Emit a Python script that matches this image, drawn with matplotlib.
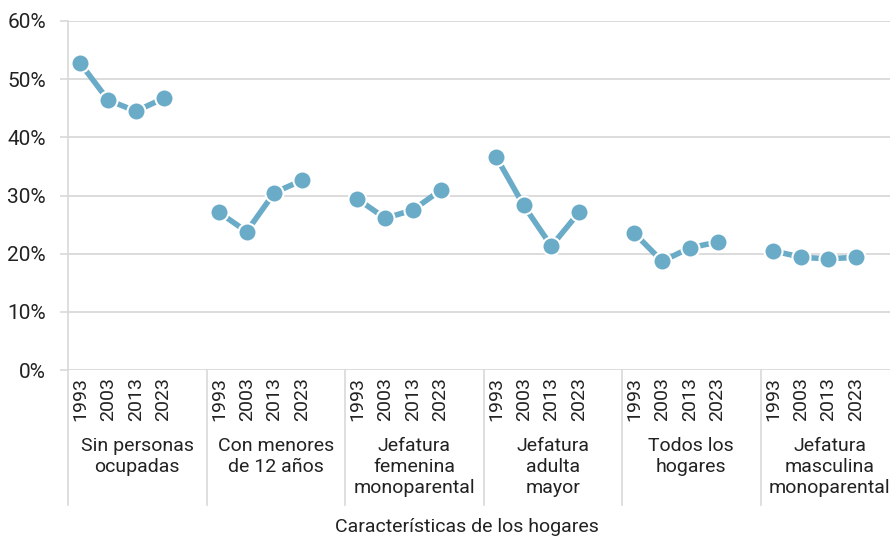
import numpy as np
import matplotlib.pyplot as plt
from matplotlib.ticker import PercentFormatter

plt.rcParams['font.family'] = ['Roboto', 'DejaVu Sans']

# Datos: porcentaje de hogares por característica y año
categorias = ["Sin personas\nocupadas", "Con menores\nde 12 años", "Jefatura\nfemenina\nmonoparental",
              "Jefatura\nadulta\nmayor", "Todos los\nhogares", "Jefatura\nmasculina\nmonoparental"]
anios = ["1993", "2003", "2013", "2023"]
sin_ocupadas = [52.7, 46.4, 44.5, 46.7]
con_menores = [27.1, 23.8, 30.5, 32.6]
jef_femenina = [29.4, 26.1, 27.5, 30.9]
jef_adulta = [36.7, 28.3, 21.3, 27.1]
todos = [23.5, 18.7, 21.0, 22.0]
jef_masculina = [20.5, 19.4, 19.1, 19.4]
series = [sin_ocupadas, con_menores, jef_femenina, jef_adulta, todos, jef_masculina]

color = '#6aabc8'
gris = '#d9d9d9'
texto = '#222222'
slots = 5  # 4 años + un hueco por grupo

fig = plt.figure(figsize=(8.9, 5.39), dpi=100)
ax = fig.add_axes([68 / 890, 1 - 370 / 539, 831 / 890, 349 / 539])
xt = ax.get_xaxis_transform()

for g, vals in enumerate(series):
    x = g * slots + np.arange(len(anios)) + 0.45
    ax.plot(x, vals, color=color, lw=4, marker='o', ms=13,
            markerfacecolor=color, markeredgecolor='white', markeredgewidth=1.5, zorder=3)
    for xi, a in zip(x, anios):
        ax.text(xi, -7 / 349, a, transform=xt, rotation=90,
                ha='center', va='top', fontsize=14, color=texto)
    ax.text(g * slots + 2.5, -67 / 349, categorias[g], transform=xt,
            ha='center', va='top', fontsize=14, color=texto, linespacing=1.2)
    ax.plot([g * slots, g * slots], [0, -135 / 349], transform=xt,
            color=gris, lw=1.2, clip_on=False)

ax.set_xlim(0, slots * len(series))
ax.set_ylim(0, 60)
ax.set_yticks(np.arange(0, 61, 10))
ax.yaxis.set_major_formatter(PercentFormatter(decimals=0))
ax.set_xticks([])
ax.grid(axis='y', color=gris, lw=1.3)
ax.set_axisbelow(True)
for s in ['top', 'right', 'bottom']:
    ax.spines[s].set_visible(False)
ax.spines['left'].set_color(gris)
ax.spines['left'].set_linewidth(1.2)
ax.tick_params(axis='y', colors=gris, labelcolor=texto, labelsize=15, length=6, width=1.2, pad=10)

fig.text(467 / 890, 1 - 527 / 539, "Características de los hogares", ha='center', va='center',
         fontsize=14, color=texto)

fig.savefig('out.png', dpi=100)
